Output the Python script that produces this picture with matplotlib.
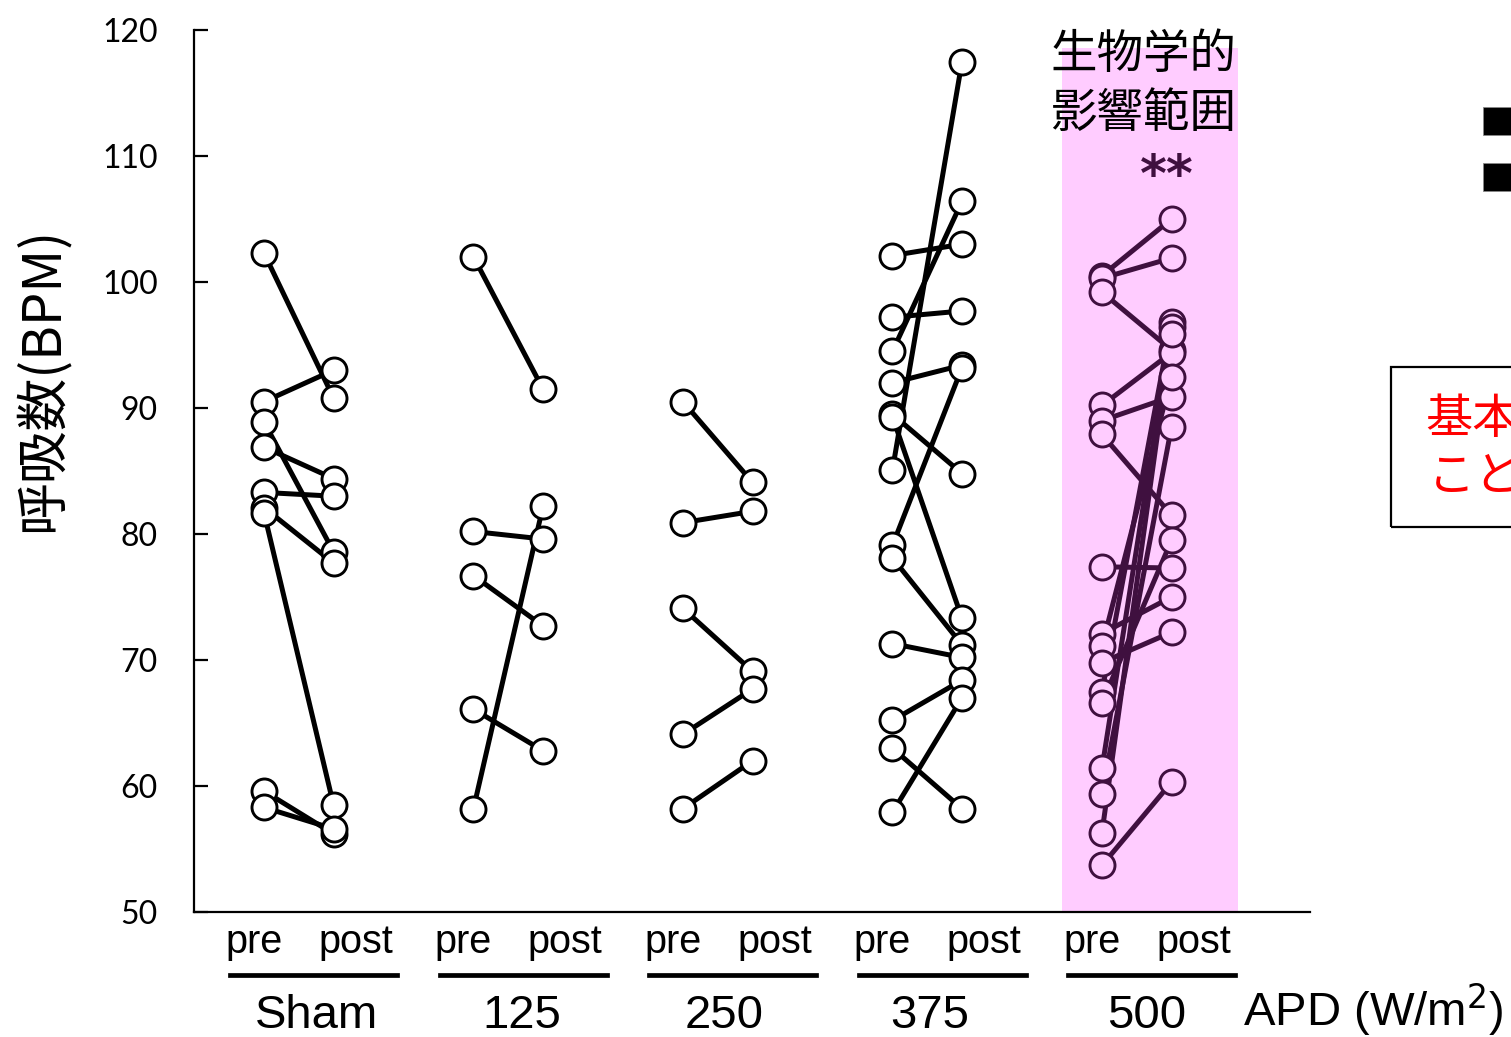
import matplotlib
matplotlib.use('Agg')
import matplotlib.pyplot as plt
from matplotlib.patches import Rectangle
from matplotlib.lines import Line2D

plt.rcParams['font.family'] = ['Noto Sans CJK JP', 'DejaVu Sans']

# 呼吸数 (BPM)、照射前後のペア
sham_pre = [102.3, 90.5, 88.9, 86.9, 83.3, 82.1, 81.7, 59.6, 58.3]
sham_post = [90.8, 93.0, 78.6, 84.4, 83.0, 77.7, 58.5, 56.2, 56.6]

apd125_pre = [102.0, 80.2, 76.7, 66.1, 58.2]
apd125_post = [91.5, 79.6, 72.7, 62.8, 82.2]

apd250_pre = [90.5, 80.9, 74.1, 64.1, 58.2]
apd250_post = [84.1, 81.8, 69.1, 67.7, 62.0]

apd375_pre = [102.1, 97.2, 94.5, 92.0, 89.5, 89.3, 85.1, 79.1, 78.1, 71.3, 65.2, 63.0, 57.9]
apd375_post = [103.0, 97.7, 106.4, 93.4, 84.8, 73.3, 117.5, 93.2, 71.2, 70.2, 68.4, 58.2, 67.0]

apd500_pre = [100.5, 100.3, 99.2, 90.2, 89.0, 87.9, 77.4, 72.1, 71.1, 69.8, 67.5, 66.6, 61.4, 59.4, 56.3, 53.7]
apd500_post = [105.0, 101.9, 94.6, 94.4, 90.9, 81.5, 77.3, 75.0, 92.5, 72.2, 96.85, 79.5, 96.45, 88.5, 95.9, 60.3]

groups = ['Sham', '125', '250', '375', '500']
pre_data = [sham_pre, apd125_pre, apd250_pre, apd375_pre, apd500_pre]
post_data = [sham_post, apd125_post, apd250_post, apd375_post, apd500_post]

y_ticks = [50, 60, 70, 80, 90, 100, 110, 120]

W, H = 1511, 1037
fig = plt.figure(figsize=(W / 100, H / 100), dpi=100)
ax = fig.add_axes([194 / W, 1 - 912 / H, (1310 - 194) / W, (912 - 30) / H])

gap = 0.332        # pre と post の間隔
pink = '#ffccff'
purple = '#3f103f'

# 生物学的影響範囲のハイライト
ax.add_patch(Rectangle((3.809, 50), 0.84, 118.6 - 50, facecolor=pink,
                       edgecolor='none', zorder=0))

for i, (pre, post) in enumerate(zip(pre_data, post_data)):
    col = purple if i == 4 else 'black'
    face = pink if i == 4 else 'white'
    for a, b in zip(pre, post):
        ax.plot([i, i + gap], [a, b], color=col, lw=3.6, zorder=2,
                solid_capstyle='round')
    ax.plot([i] * len(pre) + [i + gap] * len(post), pre + post, 'o', ms=18,
            mfc=face, mec=col, mew=2.1, ls='none', zorder=3)

ax.text(4.196, 115.7, '生物学的\n影響範囲', ha='center', va='center',
        fontsize=33.5, linespacing=1.3, zorder=5)
ax.text(4.31, 108.3, '**', ha='center', va='center', fontsize=37,
        fontweight='bold', color=purple, family='DejaVu Sans', zorder=5)

ax.set_xlim(-0.334, 4.993)
ax.set_ylim(50, 120)
ax.set_yticks(y_ticks)
ax.set_yticklabels([str(t) for t in y_ticks], family='Lato', fontsize=23)
ax.set_xticks([])
ax.tick_params(axis='y', direction='in', length=10, width=1.6, pad=26)
for s in ['top', 'right']:
    ax.spines[s].set_visible(False)
for s in ['left', 'bottom']:
    ax.spines[s].set_linewidth(1.6)

# x 軸下のラベル：pre/post、下線、群名
trans = ax.get_xaxis_transform()
name_shift = [0.253, 0.229, 0.196, 0.177, 0.215]
for i, g in enumerate(groups):
    ax.text(i - 0.048, -0.034, 'pre', transform=trans, ha='center', va='center',
            fontsize=28.5, family='Liberation Sans')
    ax.text(i + gap + 0.105, -0.034, 'post', transform=trans, ha='center',
            va='center', fontsize=28.5, family='Liberation Sans')
    ax.add_line(Line2D([i - 0.162, i + 0.637], [-0.0714, -0.0714], transform=trans,
                       color='black', lw=3.4, clip_on=False))
    ax.text(i + name_shift[i], -0.118, g, transform=trans, ha='center',
            va='center', fontsize=34, family='Liberation Sans')

fig.text(1243 / W, 1 - 1010 / H, 'APD (W/m$^2$)', ha='left', va='center',
         fontsize=34, family='Liberation Sans')

fig.text(42 / W, 1 - 379 / H, '呼吸数(BPM)', rotation=90, ha='center',
         va='center', fontsize=38)

# 右側の凡例マーカーと注記ボックス
for yy in [107, 163]:
    fig.patches.append(Rectangle((1483 / W, 1 - (yy + 28) / H), 40 / W, 28 / H,
                                 transform=fig.transFigure, facecolor='black',
                                 edgecolor='#888888', lw=0.6))
fig.patches.append(Rectangle((1391 / W, 1 - 527 / H), 200 / W, 160 / H,
                             transform=fig.transFigure, facecolor='none',
                             edgecolor='black', lw=1.6))
fig.text(1425 / W, 1 - 420 / H, '基本', ha='left', va='center', fontsize=34,
         color='red')
fig.text(1428 / W, 1 - 478 / H, 'こと', ha='left', va='center', fontsize=34,
         color='red')

fig.savefig('out.png', dpi=100)
